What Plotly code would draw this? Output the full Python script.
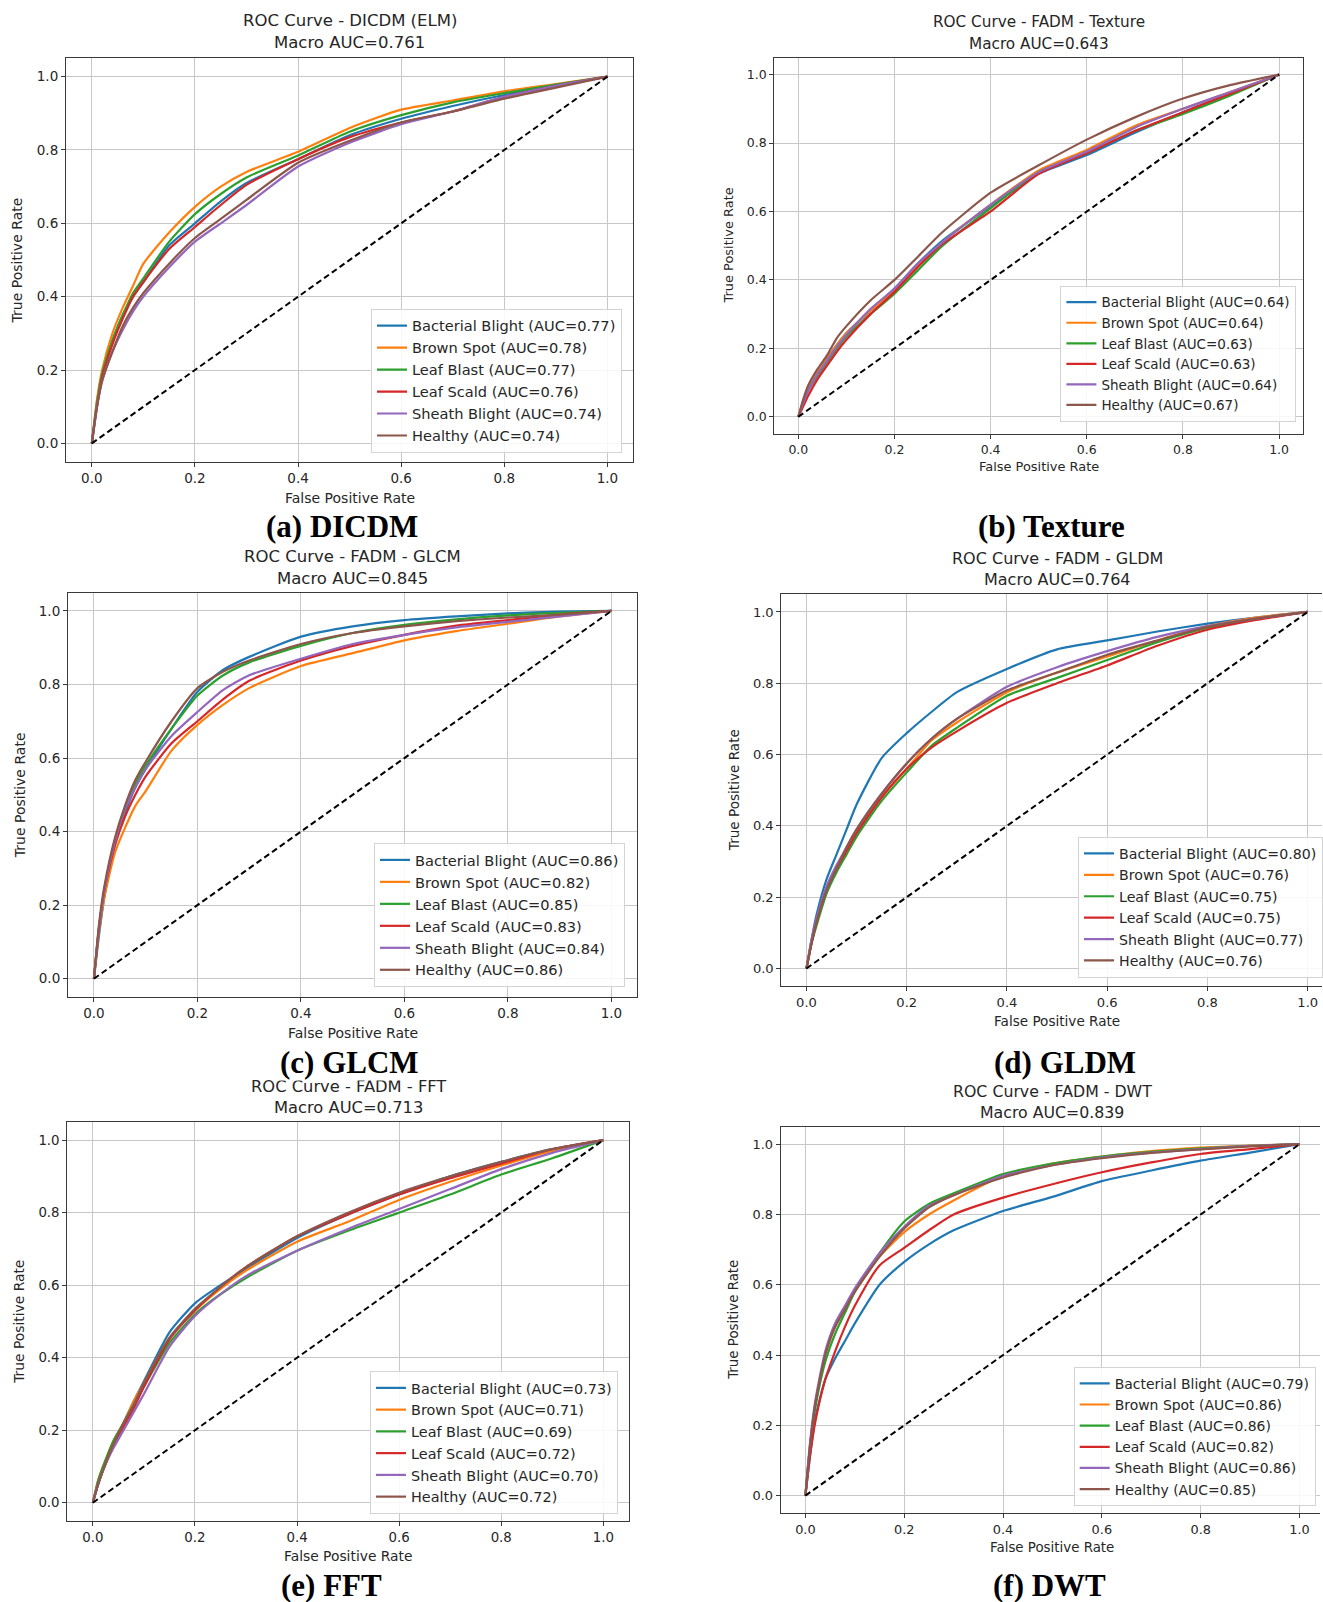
import plotly.graph_objects as go

W, H = 1323, 1602

CLASSES = ["Bacterial Blight", "Brown Spot", "Leaf Blast", "Leaf Scald", "Sheath Blight", "Healthy"]
COLORS = ["#1f77b4", "#ff7f0e", "#2ca02c", "#d62728", "#9467bd", "#8c564b"]

FPR = [0.0, 0.01, 0.02, 0.04, 0.06, 0.08, 0.1, 0.15, 0.2, 0.25, 0.3, 0.4, 0.5, 0.6, 0.7, 0.8, 0.9, 1.0]
DIAG = [0.0, 1.0]
TICKS = [0.0, 0.2, 0.4, 0.6, 0.8, 1.0]
TICK_LABELS = ["0.0", "0.2", "0.4", "0.6", "0.8", "1.0"]

TITLES = ["ROC Curve - DICDM (ELM)", "ROC Curve - FADM - Texture", "ROC Curve - FADM - GLCM",
          "ROC Curve - FADM - GLDM", "ROC Curve - FADM - FFT", "ROC Curve - FADM - DWT"]
MACRO_AUC = ["0.761", "0.643", "0.845", "0.764", "0.713", "0.839"]
CAPTIONS = ["(a) DICDM", "(b) Texture", "(c) GLCM", "(d) GLDM", "(e) FFT", "(f) DWT"]

# ---- (a) DICDM (ELM)
AUC_DICDM = ["0.77", "0.78", "0.77", "0.76", "0.74", "0.74"]
TPR_DICDM = {
    "Bacterial Blight": [0, 0.11, 0.19, 0.28, 0.35, 0.40, 0.44, 0.54, 0.60, 0.66, 0.71, 0.775, 0.84, 0.885, 0.92, 0.95, 0.975, 1.0],
    "Brown Spot":       [0, 0.12, 0.20, 0.30, 0.37, 0.43, 0.49, 0.575, 0.645, 0.70, 0.74, 0.795, 0.86, 0.91, 0.935, 0.96, 0.98, 1.0],
    "Leaf Blast":       [0, 0.11, 0.19, 0.28, 0.35, 0.41, 0.45, 0.55, 0.625, 0.68, 0.725, 0.785, 0.85, 0.895, 0.93, 0.955, 0.978, 1.0],
    "Leaf Scald":       [0, 0.10, 0.18, 0.27, 0.34, 0.40, 0.44, 0.53, 0.59, 0.65, 0.705, 0.775, 0.835, 0.875, 0.905, 0.945, 0.975, 1.0],
    "Sheath Blight":    [0, 0.10, 0.17, 0.25, 0.31, 0.36, 0.40, 0.48, 0.55, 0.60, 0.65, 0.755, 0.82, 0.87, 0.905, 0.945, 0.975, 1.0],
    "Healthy":          [0, 0.10, 0.17, 0.25, 0.32, 0.37, 0.41, 0.49, 0.56, 0.612, 0.664, 0.765, 0.825, 0.875, 0.905, 0.94, 0.97, 1.0],
}

# ---- (b) Texture
AUC_TEXTURE = ["0.64", "0.64", "0.63", "0.63", "0.64", "0.67"]
TPR_TEXTURE = {
    "Bacterial Blight": [0, 0.04, 0.08, 0.13, 0.17, 0.21, 0.245, 0.31, 0.375, 0.45, 0.515, 0.615, 0.71, 0.765, 0.83, 0.89, 0.945, 1.0],
    "Brown Spot":       [0, 0.045, 0.08, 0.13, 0.17, 0.21, 0.245, 0.31, 0.37, 0.445, 0.51, 0.62, 0.72, 0.78, 0.85, 0.90, 0.95, 1.0],
    "Leaf Blast":       [0, 0.04, 0.075, 0.12, 0.16, 0.20, 0.235, 0.30, 0.36, 0.43, 0.50, 0.61, 0.715, 0.77, 0.835, 0.885, 0.94, 1.0],
    "Leaf Scald":       [0, 0.03, 0.06, 0.11, 0.15, 0.19, 0.225, 0.30, 0.365, 0.44, 0.505, 0.60, 0.71, 0.77, 0.835, 0.89, 0.945, 1.0],
    "Sheath Blight":    [0, 0.04, 0.075, 0.125, 0.165, 0.205, 0.24, 0.315, 0.375, 0.45, 0.51, 0.62, 0.715, 0.775, 0.845, 0.90, 0.95, 1.0],
    "Healthy":          [0, 0.05, 0.09, 0.14, 0.18, 0.23, 0.265, 0.34, 0.40, 0.47, 0.54, 0.655, 0.735, 0.81, 0.875, 0.93, 0.97, 1.0],
}

# ---- (c) GLCM
AUC_GLCM = ["0.86", "0.82", "0.85", "0.83", "0.84", "0.86"]
TPR_GLCM = {
    "Bacterial Blight": [0, 0.12, 0.22, 0.36, 0.45, 0.52, 0.57, 0.68, 0.78, 0.84, 0.875, 0.93, 0.958, 0.975, 0.985, 0.993, 0.998, 1.0],
    "Brown Spot":       [0, 0.13, 0.22, 0.34, 0.41, 0.47, 0.51, 0.62, 0.69, 0.745, 0.79, 0.85, 0.885, 0.92, 0.945, 0.965, 0.985, 1.0],
    "Leaf Blast":       [0, 0.14, 0.24, 0.37, 0.46, 0.53, 0.58, 0.68, 0.77, 0.825, 0.86, 0.905, 0.94, 0.962, 0.977, 0.988, 0.995, 1.0],
    "Leaf Scald":       [0, 0.14, 0.24, 0.36, 0.44, 0.50, 0.55, 0.64, 0.70, 0.76, 0.81, 0.865, 0.905, 0.935, 0.96, 0.975, 0.99, 1.0],
    "Sheath Blight":    [0, 0.14, 0.24, 0.37, 0.46, 0.52, 0.57, 0.66, 0.725, 0.785, 0.825, 0.87, 0.91, 0.935, 0.955, 0.97, 0.985, 1.0],
    "Healthy":          [0, 0.15, 0.25, 0.38, 0.47, 0.54, 0.59, 0.70, 0.79, 0.835, 0.865, 0.91, 0.94, 0.958, 0.972, 0.982, 0.99, 1.0],
}

# ---- (d) GLDM
AUC_GLDM = ["0.80", "0.76", "0.75", "0.75", "0.77", "0.76"]
TPR_GLDM = {
    "Bacterial Blight": [0, 0.08, 0.15, 0.25, 0.32, 0.39, 0.46, 0.59, 0.66, 0.72, 0.775, 0.84, 0.895, 0.92, 0.945, 0.967, 0.985, 1.0],
    "Brown Spot":       [0, 0.07, 0.13, 0.22, 0.28, 0.33, 0.38, 0.48, 0.56, 0.64, 0.69, 0.775, 0.83, 0.875, 0.92, 0.96, 0.985, 1.0],
    "Leaf Blast":       [0, 0.07, 0.12, 0.21, 0.27, 0.32, 0.37, 0.47, 0.55, 0.625, 0.675, 0.765, 0.815, 0.865, 0.915, 0.955, 0.98, 1.0],
    "Leaf Scald":       [0, 0.07, 0.13, 0.22, 0.28, 0.33, 0.38, 0.48, 0.56, 0.62, 0.665, 0.745, 0.80, 0.85, 0.905, 0.95, 0.978, 1.0],
    "Sheath Blight":    [0, 0.08, 0.14, 0.23, 0.29, 0.34, 0.39, 0.49, 0.575, 0.645, 0.70, 0.79, 0.845, 0.89, 0.93, 0.96, 0.982, 1.0],
    "Healthy":          [0, 0.07, 0.13, 0.22, 0.28, 0.34, 0.39, 0.49, 0.575, 0.645, 0.70, 0.78, 0.83, 0.88, 0.92, 0.958, 0.982, 1.0],
}

# ---- (e) FFT
AUC_FFT = ["0.73", "0.71", "0.69", "0.72", "0.70", "0.72"]
TPR_FFT = {
    "Bacterial Blight": [0, 0.05, 0.09, 0.16, 0.22, 0.28, 0.335, 0.47, 0.55, 0.60, 0.645, 0.73, 0.795, 0.85, 0.90, 0.94, 0.975, 1.0],
    "Brown Spot":       [0, 0.06, 0.10, 0.17, 0.22, 0.28, 0.33, 0.455, 0.53, 0.59, 0.64, 0.72, 0.775, 0.835, 0.885, 0.93, 0.97, 1.0],
    "Leaf Blast":       [0, 0.06, 0.10, 0.17, 0.22, 0.27, 0.32, 0.44, 0.52, 0.575, 0.62, 0.695, 0.75, 0.80, 0.85, 0.905, 0.95, 1.0],
    "Leaf Scald":       [0, 0.05, 0.09, 0.16, 0.21, 0.26, 0.32, 0.45, 0.53, 0.595, 0.65, 0.735, 0.795, 0.85, 0.895, 0.935, 0.975, 1.0],
    "Sheath Blight":    [0, 0.05, 0.09, 0.15, 0.20, 0.25, 0.30, 0.43, 0.515, 0.575, 0.625, 0.695, 0.755, 0.81, 0.865, 0.92, 0.965, 1.0],
    "Healthy":          [0, 0.05, 0.09, 0.16, 0.22, 0.27, 0.33, 0.455, 0.535, 0.595, 0.65, 0.735, 0.80, 0.855, 0.90, 0.94, 0.975, 1.0],
}

# ---- (f) DWT
AUC_DWT = ["0.79", "0.86", "0.86", "0.82", "0.86", "0.85"]
TPR_DWT = {
    "Bacterial Blight": [0, 0.12, 0.22, 0.33, 0.39, 0.44, 0.49, 0.60, 0.665, 0.715, 0.755, 0.81, 0.85, 0.895, 0.925, 0.953, 0.976, 1.0],
    "Brown Spot":       [0, 0.15, 0.26, 0.40, 0.48, 0.53, 0.58, 0.68, 0.75, 0.80, 0.84, 0.91, 0.945, 0.965, 0.98, 0.99, 0.996, 1.0],
    "Leaf Blast":       [0, 0.15, 0.25, 0.38, 0.46, 0.52, 0.58, 0.69, 0.78, 0.83, 0.86, 0.915, 0.945, 0.965, 0.978, 0.988, 0.995, 1.0],
    "Leaf Scald":       [0, 0.12, 0.21, 0.33, 0.41, 0.48, 0.54, 0.655, 0.705, 0.755, 0.80, 0.848, 0.886, 0.92, 0.948, 0.972, 0.986, 1.0],
    "Sheath Blight":    [0, 0.16, 0.27, 0.41, 0.49, 0.54, 0.59, 0.69, 0.765, 0.825, 0.855, 0.91, 0.94, 0.962, 0.976, 0.986, 0.995, 1.0],
    "Healthy":          [0, 0.15, 0.26, 0.40, 0.48, 0.53, 0.58, 0.68, 0.76, 0.82, 0.855, 0.905, 0.94, 0.96, 0.975, 0.985, 0.994, 1.0],
}

PANEL_AUC = [AUC_DICDM, AUC_TEXTURE, AUC_GLCM, AUC_GLDM, AUC_FFT, AUC_DWT]
PANEL_TPR = [TPR_DICDM, TPR_TEXTURE, TPR_GLCM, TPR_GLDM, TPR_FFT, TPR_DWT]

# ---- layout geometry (pixels in the 1323x1602 page)
GEOM = [
    dict(L=66.1, R=633.7, T=58.3, B=461.7, xmax=1.05, s=1.0, legL=371, legB=452.6,
         t1=20.4, t2=43.0, xl=498.5, yl=17.4, cap=(342, 526), mirror=True),
    dict(L=774.9, R=1304.1, T=57.5, B=433.9, xmax=1.05, s=0.925, legL=1060.4, legB=421.9,
         t1=22.5, t2=44.0, xl=466.9, yl=729.4, cap=(1052, 526), mirror=True),
    dict(L=68.1, R=637.8, T=592.5, B=997.1, xmax=1.05, s=1.0, legL=374, legB=986.9,
         t1=556.8, t2=578.2, xl=1032.8, yl=19.4, cap=(350, 1062.5), mirror=True),
    dict(L=782.0, R=1323.0, T=594.1, B=986.3, xmax=1.0285, s=0.97, legL=1078.8, legB=977.7,
         t1=558.8, t2=579.2, xl=1020.6, yl=734.5, cap=(1065.5, 1062.5), mirror=False),
    dict(L=67.4, R=629.3, T=1122.0, B=1520.9, xmax=1.05, s=0.988, legL=370, legB=1514.0,
         t1=1086.0, t2=1107.4, xl=1556.0, yl=19.4, cap=(332, 1585.5), mirror=True),
    dict(L=781.3, R=1321.0, T=1126.6, B=1513.2, xmax=1.0415, s=0.956, legL=1073.7, legB=1505.8,
         t1=1091.0, t2=1112.5, xl=1547.7, yl=734.5, cap=(1050, 1585.5), mirror=False),
]

FONT = "DejaVu Sans"
TXT = "#262626"

fig = go.Figure()
layout = dict(width=W, height=H, margin=dict(l=0, r=0, t=0, b=0),
              paper_bgcolor="white", plot_bgcolor="white", showlegend=True)
annotations = []
captions = []

for i, g in enumerate(GEOM):
    n = i + 1
    sfx = "" if n == 1 else str(n)
    xa, ya = "x" + sfx, "y" + sfx
    leg = "legend" + sfx
    s = g["s"]

    for k, cls in enumerate(CLASSES):
        fig.add_trace(go.Scatter(
            x=FPR, y=PANEL_TPR[i][cls], mode="lines",
            line=dict(color=COLORS[k], width=2.2, shape="spline", smoothing=0.6),
            name=f"{cls} (AUC={PANEL_AUC[i][k]})",
            xaxis=xa, yaxis=ya, legend=leg))
    fig.add_trace(go.Scatter(
        x=DIAG, y=DIAG, mode="lines",
        line=dict(color="black", width=2, dash="6px,3.5px"),
        showlegend=False, xaxis=xa, yaxis=ya, hoverinfo="skip"))

    axis_common = dict(
        tickvals=TICKS, ticktext=TICK_LABELS, showgrid=True, gridcolor="#c8c8c8", gridwidth=1,
        zeroline=False, showline=True, linecolor="#3a3a3a", linewidth=1.2,
        ticks="outside", ticklen=4, tickcolor="#3a3a3a", tickwidth=1,
        tickfont=dict(family=FONT, size=13.5 * s, color=TXT))
    layout["xaxis" + sfx] = dict(axis_common, domain=[g["L"] / W, g["R"] / W],
                                 range=[-0.05, g["xmax"]], anchor=ya, mirror=True)
    layout["yaxis" + sfx] = dict(axis_common, domain=[1 - g["B"] / H, 1 - g["T"] / H],
                                 range=[-0.05, 1.05], anchor=xa, mirror=g["mirror"])
    layout[leg] = dict(
        x=g["legL"] / W, xanchor="left", y=1 - g["legB"] / H, yanchor="bottom",
        xref="paper", yref="paper",
        bgcolor="rgba(255,255,255,0.85)", bordercolor="#d4d4d4", borderwidth=1,
        font=dict(family=FONT, size=14.6 * s, color=TXT), tracegroupgap=0, itemwidth=30)

    # titles
    annotations.append(dict(text=TITLES[i], x=0.5, xref=xa, y=1 - g["t1"] / H, yref="paper",
                            showarrow=False, xanchor="center", yanchor="middle",
                            font=dict(family=FONT, size=16.5 * s, color=TXT)))
    annotations.append(dict(text=f"Macro AUC={MACRO_AUC[i]}", x=0.5, xref=xa, y=1 - g["t2"] / H,
                            yref="paper", showarrow=False, xanchor="center", yanchor="middle",
                            font=dict(family=FONT, size=16.5 * s, color=TXT)))
    # axis labels
    annotations.append(dict(text="False Positive Rate", x=0.5, xref=xa, y=1 - g["xl"] / H,
                            yref="paper", showarrow=False, xanchor="center", yanchor="middle",
                            font=dict(family=FONT, size=14 * s, color=TXT)))
    annotations.append(dict(text="True Positive Rate", x=g["yl"] / W, xref="paper", y=0.5,
                            yref=ya, showarrow=False, xanchor="center", yanchor="middle",
                            textangle=-90, font=dict(family=FONT, size=14 * s, color=TXT)))
    # caption
    captions.append(dict(text=CAPTIONS[i], x=g["cap"][0] / W, xref="paper",
                         y=1 - g["cap"][1] / H, yref="paper", showarrow=False,
                         xanchor="center", yanchor="middle", bgcolor="white", borderpad=0,
                         font=dict(family="Liberation Serif", size=31, color="black", weight="bold")))

layout["annotations"] = annotations + captions
fig.update_layout(**layout)
fig.write_html(
    "out.html",
    config={"displayModeBar": False},
    post_script="document.body.style.margin='0px';document.body.style.padding='0px';"
                "document.body.style.overflow='hidden';",
)
